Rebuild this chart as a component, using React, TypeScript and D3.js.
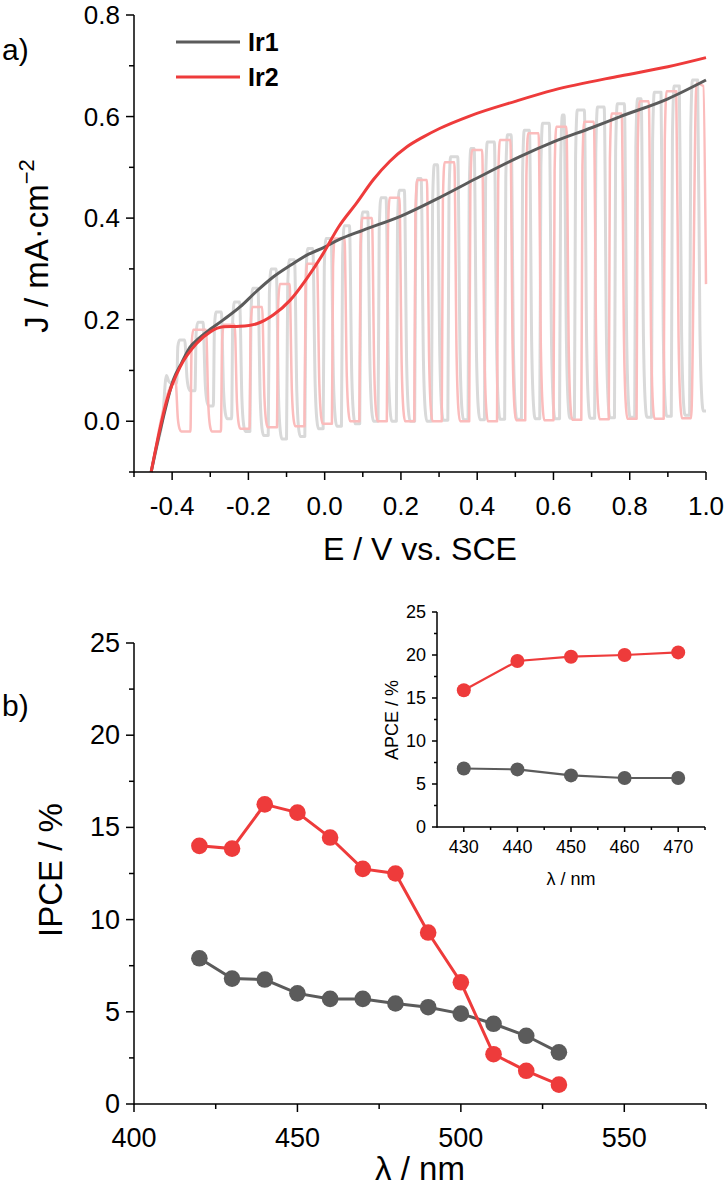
import * as d3 from "d3";

const FONT = "'Liberation Sans', Arial, Helvetica, sans-serif";

// ---- panel a: dark scans (E / V vs SCE, J / mA cm-2)
const ir1E = [-0.455, -0.445, -0.423, -0.397, -0.375, -0.353, -0.33, -0.309, -0.265, -0.222, -0.18, -0.135, -0.09, -0.047, 0.0, 0.036, 0.1, 0.2, 0.3, 0.4, 0.512, 0.6, 0.7, 0.775, 0.9, 1.0];
const ir1J = [-0.1, -0.064, 0.008, 0.081, 0.115, 0.146, 0.163, 0.176, 0.2, 0.225, 0.255, 0.284, 0.307, 0.327, 0.343, 0.357, 0.376, 0.404, 0.44, 0.479, 0.521, 0.55, 0.578, 0.6, 0.635, 0.672];
const ir2E = [-0.455, -0.449, -0.414, -0.379, -0.336, -0.3, -0.266, -0.222, -0.178, -0.135, -0.091, -0.047, -0.004, 0.036, 0.084, 0.128, 0.171, 0.215, 0.259, 0.3, 0.38, 0.5, 0.6, 0.775, 0.9, 1.0];
const ir2J = [-0.1, -0.077, 0.041, 0.107, 0.153, 0.176, 0.186, 0.187, 0.192, 0.209, 0.238, 0.281, 0.33, 0.382, 0.43, 0.476, 0.512, 0.54, 0.56, 0.576, 0.601, 0.63, 0.652, 0.68, 0.698, 0.716];

// chopped-light scans: start of the scan, then the centre of each dark (light off) interval,
// current there, and the photocurrent plateau reached in the light-on interval just before it
const ir1HeadE = [-0.455, -0.44, -0.425];
const ir1HeadJ = [-0.1, -0.05, 0.005];
const ir1OffE = [-0.4, -0.352, -0.304, -0.256, -0.208, -0.16, -0.112, -0.064, -0.016, 0.032, 0.08, 0.128, 0.176, 0.224, 0.268, 0.311, 0.364, 0.407, 0.46, 0.504, 0.552, 0.604, 0.643, 0.696, 0.748, 0.801, 0.845, 0.897, 0.945, 0.993];
const ir1OffJ = [0.075, 0.06, 0.03, 0.005, -0.02, -0.028, -0.035, -0.03, -0.015, -0.01, -0.005, 0.0, 0.0, 0.0, 0.0, 0.002, 0.003, 0.003, 0.004, 0.004, 0.005, 0.005, 0.006, 0.006, 0.007, 0.008, 0.008, 0.01, 0.012, 0.02];
const ir1OnJ = [0.09, 0.16, 0.195, 0.215, 0.235, 0.262, 0.3, 0.318, 0.34, 0.36, 0.385, 0.412, 0.44, 0.455, 0.478, 0.505, 0.521, 0.537, 0.55, 0.564, 0.573, 0.587, 0.603, 0.613, 0.619, 0.625, 0.635, 0.648, 0.66, 0.672];
const ir2HeadE = [-0.455, -0.445, -0.43];
const ir2HeadJ = [-0.1, -0.06, 0.0];
const ir2OffE = [-0.37, -0.29, -0.215, -0.143, -0.071, 0.001, 0.073, 0.145, 0.217, 0.289, 0.361, 0.434, 0.508, 0.582, 0.655, 0.727, 0.8, 0.871, 0.943];
const ir2OffJ = [-0.02, -0.02, -0.015, -0.012, -0.01, -0.005, 0.0, 0.0, 0.0, 0.0, 0.0, 0.0, 0.002, 0.002, 0.003, 0.004, 0.005, 0.005, 0.006];
const ir2OnJ = [0.08, 0.18, 0.19, 0.225, 0.27, 0.31, 0.36, 0.4, 0.44, 0.475, 0.51, 0.534, 0.554, 0.567, 0.58, 0.59, 0.606, 0.63, 0.65];
const ir2TailE = [0.975, 0.993, 1.0];
const ir2TailJ = [0.665, 0.66, 0.27];

const eTicks = [-0.4, -0.2, 0.0, 0.2, 0.4, 0.6, 0.8, 1.0];
const eMinor = [-0.5, -0.3, -0.1, 0.1, 0.3, 0.5, 0.7, 0.9];
const jTicks = [0.0, 0.2, 0.4, 0.6, 0.8];
const jMinor = [-0.1, 0.1, 0.3, 0.5, 0.7];

// ---- panel b: IPCE
const wl = [420, 430, 440, 450, 460, 470, 480, 490, 500, 510, 520, 530];
const ipceIr1 = [7.9, 6.8, 6.75, 6.0, 5.7, 5.7, 5.45, 5.25, 4.9, 4.35, 3.7, 2.8];
const ipceIr2 = [14.0, 13.85, 16.25, 15.8, 14.45, 12.75, 12.5, 9.3, 6.6, 2.7, 1.8, 1.05];
const wlTicks = [400, 450, 500, 550];
const wlMinor = [425, 475, 525, 575];
const ipceTicks = [0, 5, 10, 15, 20, 25];
const ipceMinor = [2.5, 7.5, 12.5, 17.5, 22.5];

// ---- inset: APCE
const wlInset = [430, 440, 450, 460, 470];
const apceIr1 = [6.8, 6.7, 6.0, 5.7, 5.7];
const apceIr2 = [15.9, 19.3, 19.8, 20.0, 20.3];
const insetXTicks = [430, 440, 450, 460, 470];
const insetXMinor = [435, 445, 455, 465, 475];
const apceTicks = [0, 5, 10, 15, 20, 25];
const apceMinor = [2.5, 7.5, 12.5, 17.5, 22.5];

const GRAY = "#5b5b5b";
const RED = "#ee3b3b";
const LGRAY = "#d9d9d9";
const PINK = "#fbbcbc";

type S = d3.ScaleLinear<number, number>;

function chopPoints(headE: number[], headJ: number[], offE: number[], offJ: number[], onJ: number[], hw: number, tailE: number[], tailJ: number[], end: number) {
  const eps = 0.003;
  const pts: [number, number][] = headE.map((e, i) => [e, headJ[i]] as [number, number]);
  offE.forEach((c, i) => {
    const s = c - hw, e = Math.min(c + hw, end), b = offJ[i], t = onJ[i];
    pts.push([s - eps, t]);
    pts.push([s + eps, b + (t - b) * 0.25]);
    pts.push([s + 2.5 * eps, b + (t - b) * 0.05]);
    pts.push([s + 4 * eps, b]);
    pts.push([e, b]);
    if (i + 1 < onJ.length) {
      const n = onJ[i + 1];
      pts.push([e + eps, b + (n - b) * 0.85]);
      pts.push([e + 2.5 * eps, n]);
    }
  });
  tailE.forEach((v, i) => pts.push([v, tailJ[i]]));
  return pts;
}

function LeftAxis({ y, x0, major, minor, fmt, fs, len = 8, mlen = 5 }: { y: S; x0: number; major: number[]; minor: number[]; fmt: (v: number) => string; fs: number; len?: number; mlen?: number }) {
  const [r0, r1] = y.range();
  return (
    <g stroke="#000" strokeWidth={1.5}>
      <line x1={x0} x2={x0} y1={r0 + 0.75} y2={r1} />
      {major.map((v) => <line key={"M" + v} x1={x0 - len} x2={x0} y1={y(v)} y2={y(v)} />)}
      {minor.map((v) => <line key={"m" + v} x1={x0 - mlen} x2={x0} y1={y(v)} y2={y(v)} />)}
      {major.map((v) => (
        <text key={"t" + v} x={x0 - len - 6} y={y(v)} textAnchor="end" dominantBaseline="central" fontSize={fs} stroke="none" fill="#000">{fmt(v)}</text>
      ))}
    </g>
  );
}

function BottomAxis({ x, y0, major, minor, fmt, fs, len = 8, mlen = 5, dy }: { x: S; y0: number; major: number[]; minor: number[]; fmt: (v: number) => string; fs: number; len?: number; mlen?: number; dy: number }) {
  const [r0, r1] = x.range();
  return (
    <g stroke="#000" strokeWidth={1.5}>
      <line x1={r0} x2={r1} y1={y0} y2={y0} />
      {major.map((v) => <line key={"M" + v} x1={x(v)} x2={x(v)} y1={y0} y2={y0 + len} />)}
      {minor.map((v) => <line key={"m" + v} x1={x(v)} x2={x(v)} y1={y0} y2={y0 + mlen} />)}
      {major.map((v) => (
        <text key={"t" + v} x={x(v)} y={y0 + dy} textAnchor="middle" dominantBaseline="central" fontSize={fs} stroke="none" fill="#000">{fmt(v)}</text>
      ))}
    </g>
  );
}

function Series({ xs, ys, x, y, color, r, w }: { xs: number[]; ys: number[]; x: S; y: S; color: string; r: number; w: number }) {
  const line = d3.line<number>().x((_d, i) => x(xs[i])).y((d) => y(d));
  return (
    <g>
      <path d={line(ys) ?? ""} fill="none" stroke={color} strokeWidth={w} />
      {ys.map((v, i) => <circle key={i} cx={x(xs[i])} cy={y(v)} r={r} fill={color} />)}
    </g>
  );
}

export default function App() {
  // panel a scales
  const xA = d3.scaleLinear().domain([-0.5, 1.0]).range([134, 706]);
  const yA = d3.scaleLinear().domain([-0.1, 0.8]).range([472, 15]);
  const curve = d3.line<[number, number]>().x((d) => xA(d[0])).y((d) => yA(d[1])).curve(d3.curveMonotoneX);
  const dark1 = curve(ir1E.map((e, i) => [e, ir1J[i]] as [number, number])) ?? "";
  const dark2 = curve(ir2E.map((e, i) => [e, ir2J[i]] as [number, number])) ?? "";
  const chop1 = curve(chopPoints(ir1HeadE, ir1HeadJ, ir1OffE, ir1OffJ, ir1OnJ, 0.012, [1.0], [0.02], 1.0)) ?? "";
  const chop2 = curve(chopPoints(ir2HeadE, ir2HeadJ, ir2OffE, ir2OffJ, ir2OnJ, 0.018, ir2TailE, ir2TailJ, 1.0)) ?? "";

  // panel b scales
  const xB = d3.scaleLinear().domain([400, 575]).range([134, 706]);
  const yB = d3.scaleLinear().domain([0, 25]).range([1104, 643]);
  // inset scales
  const xI = d3.scaleLinear().domain([425, 475]).range([437, 705]);
  const yI = d3.scaleLinear().domain([0, 25]).range([827, 612]);

  const f1 = (v: number) => v.toFixed(1);
  const f0 = (v: number) => String(v);

  return (
    <svg width={726} height={1198} viewBox="0 0 726 1198" style={{ position: "absolute", left: 0, top: 0, background: "#fff" }} fontFamily={FONT}>
      <rect width={726} height={1198} fill="#fff" />

      {/* ---------- panel a ---------- */}
      <text x={2} y={60} fontSize={30}>a)</text>
      <path d={chop1} fill="none" stroke={LGRAY} strokeWidth={3} strokeLinejoin="round" />
      <path d={chop2} fill="none" stroke={PINK} strokeWidth={2.5} strokeLinejoin="round" />
      <path d={dark1} fill="none" stroke={GRAY} strokeWidth={3} />
      <path d={dark2} fill="none" stroke={RED} strokeWidth={3} />
      <LeftAxis y={yA} x0={134} major={jTicks} minor={jMinor} fmt={f1} fs={26} />
      <BottomAxis x={xA} y0={472} major={eTicks} minor={eMinor} fmt={f1} fs={26} dy={34} />
      <text transform="translate(48,246) rotate(-90)" textAnchor="middle" fontSize={33}>
        J / mA·cm<tspan dy={-14} fontSize={22}>−2</tspan>
      </text>
      <text x={420} y={560} textAnchor="middle" fontSize={32}>E / V vs. SCE</text>
      {/* legend */}
      <line x1={176} x2={240} y1={42} y2={42} stroke={GRAY} strokeWidth={3} />
      <line x1={176} x2={240} y1={77} y2={77} stroke={RED} strokeWidth={3} />
      <text x={248} y={51} fontSize={25} fontWeight="bold">Ir1</text>
      <text x={248} y={86} fontSize={25} fontWeight="bold">Ir2</text>

      {/* ---------- panel b ---------- */}
      <text x={2} y={716} fontSize={30}>b)</text>
      <LeftAxis y={yB} x0={134} major={ipceTicks} minor={ipceMinor} fmt={f0} fs={27} />
      <BottomAxis x={xB} y0={1104} major={wlTicks} minor={wlMinor} fmt={f0} fs={27} dy={34} />
      <Series xs={wl} ys={ipceIr1} x={xB} y={yB} color={GRAY} r={8.3} w={3} />
      <Series xs={wl} ys={ipceIr2} x={xB} y={yB} color={RED} r={8.3} w={3} />
      <text transform="translate(62,870) rotate(-90)" textAnchor="middle" fontSize={33}>IPCE / %</text>
      <text x={420} y={1180} textAnchor="middle" fontSize={33}>λ / nm</text>

      {/* ---------- inset ---------- */}
      <LeftAxis y={yI} x0={437} major={apceTicks} minor={apceMinor} fmt={f0} fs={18} len={5} mlen={3} />
      <BottomAxis x={xI} y0={827} major={insetXTicks} minor={insetXMinor} fmt={f0} fs={18} len={5} mlen={3} dy={20} />
      <Series xs={wlInset} ys={apceIr1} x={xI} y={yI} color={GRAY} r={7} w={2.2} />
      <Series xs={wlInset} ys={apceIr2} x={xI} y={yI} color={RED} r={7} w={2.2} />
      <text transform="translate(398,720) rotate(-90)" textAnchor="middle" fontSize={18}>APCE / %</text>
      <text x={571} y={885} textAnchor="middle" fontSize={18}>λ / nm</text>
    </svg>
  );
}
